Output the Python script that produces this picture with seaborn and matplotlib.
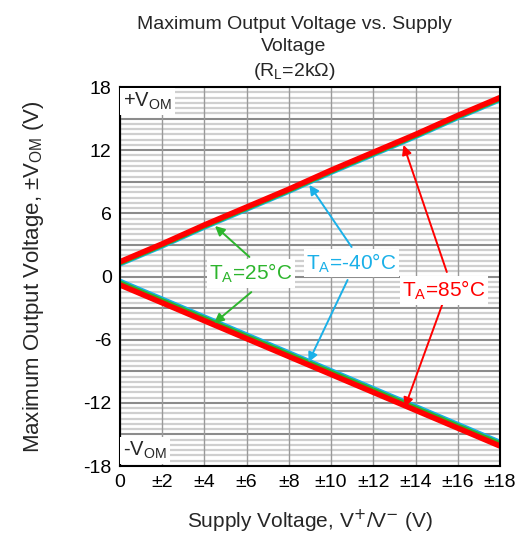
import numpy as np
import pandas as pd
import matplotlib
matplotlib.use("Agg")
import matplotlib.pyplot as plt
import seaborn as sns

# Supply voltage (±V) and measured output swing for each ambient temperature
supply = [0, 2, 4, 6, 8, 10, 12, 14, 16, 18]
vom_pos_25 = [1.3, 3.0, 4.8, 6.5, 8.2, 10.0, 11.7, 13.4, 15.2, 16.9]
vom_pos_m40 = [1.2, 2.9, 4.7, 6.4, 8.1, 9.9, 11.6, 13.3, 15.1, 16.8]
vom_pos_85 = [1.4, 3.1, 4.9, 6.6, 8.3, 10.1, 11.8, 13.5, 15.3, 17.0]
vom_neg_25 = [-0.6, -2.3, -4.0, -5.7, -7.4, -9.1, -10.8, -12.5, -14.2, -15.9]
vom_neg_m40 = [-0.45, -2.15, -3.85, -5.55, -7.25, -8.95, -10.65, -12.35, -14.05, -15.75]
vom_neg_85 = [-0.8, -2.5, -4.2, -5.9, -7.6, -9.3, -11.0, -12.7, -14.4, -16.1]

x_ticks = [0, 2, 4, 6, 8, 10, 12, 14, 16, 18]
x_ticklabels = ["0", "±2", "±4", "±6", "±8", "±10", "±12", "±14", "±16", "±18"]
y_ticks = [-18, -12, -6, 0, 6, 12, 18]

sns.set_theme(style="white")
plt.rcParams["font.family"] = ["Liberation Sans", "DejaVu Sans"]
plt.rcParams["axes.unicode_minus"] = False

fig = plt.figure(figsize=(5.29, 5.34), dpi=100)
ax = fig.add_axes([0.2268, 0.1273, 0.7184, 0.7097])

# grid: fine horizontal lines every 0.5 V, heavier every 3 V, vertical every 2 V
for y in np.arange(-18, 18.01, 0.5):
    if abs(y % 3) < 1e-9:
        ax.axhline(y, color="#8c8c8c", lw=1.5, zorder=1)
    else:
        ax.axhline(y, color="#cfcfcf", lw=1.6, zorder=0.9)
for x in range(0, 19, 2):
    ax.axvline(x, color="#9a9a9a", lw=1.0, zorder=1.1)

colors = {"25": "#2db52d", "-40": "#1ab0e8", "85": "#ff0000"}
series = [
    ("-40", vom_pos_m40, vom_neg_m40),
    ("25", vom_pos_25, vom_neg_25),
    ("85", vom_pos_85, vom_neg_85),
]
for temp, pos, neg in series:
    df = pd.DataFrame({"supply": supply, "pos": pos, "neg": neg})
    lw = 4.0 if temp == "85" else 3.8
    sns.lineplot(data=df, x="supply", y="pos", color=colors[temp], lw=lw, ax=ax, zorder=3)
    sns.lineplot(data=df, x="supply", y="neg", color=colors[temp], lw=lw, ax=ax, zorder=3)

ax.set_xlim(0, 18)
ax.set_ylim(-18, 18)
ax.set_xticks(x_ticks)
ax.set_xticklabels(x_ticklabels)
ax.set_yticks(y_ticks)
ax.tick_params(axis="both", length=0, labelsize=14, pad=6, colors="black")
for s in ax.spines.values():
    s.set_color("black")
    s.set_linewidth(1.5)
    s.set_zorder(5)

ax.set_xlabel("Supply Voltage, V$^{+}$/V$^{-}$ (V)", fontsize=15, labelpad=12)
ax.set_ylabel("Maximum Output Voltage, ±V$_{\\mathregular{OM}}$ (V)", fontsize=16, labelpad=27)
ax.set_title("Maximum Output Voltage vs. Supply\nVoltage\n(R$_{\\mathregular{L}}$=2kΩ)",
             fontsize=14, linespacing=1.4, pad=8, x=0.458)

box = dict(boxstyle="square,pad=0.15", fc="white", ec="none")
ax.text(0.15, 16.6, "+V$_{\\mathregular{OM}}$", fontsize=14.5, ha="left", va="center", bbox=box, zorder=6)
ax.text(0.15, -16.5, "-V$_{\\mathregular{OM}}$", fontsize=14.5, ha="left", va="center", bbox=box, zorder=6)

label_box = dict(boxstyle="square,pad=0.12", fc="white", ec="none")
arrow_kw = dict(arrowstyle="-|>", lw=1.4, mutation_scale=14, shrinkA=0, shrinkB=0)

# T_A = 25 °C
c = colors["25"]
ax.text(6.2, 0.3, "T$_{\\mathregular{A}}$=25°C", color=c, fontsize=15, ha="center",
        va="center", bbox=label_box, zorder=6)
ax.annotate("", xy=(4.5, 4.8), xytext=(6.13, 1.86), arrowprops=dict(color=c, **arrow_kw), zorder=4)
ax.annotate("", xy=(4.46, -4.43), xytext=(6.22, -1.48), arrowprops=dict(color=c, **arrow_kw), zorder=4)

# T_A = -40 °C
c = colors["-40"]
ax.text(10.95, 1.3, "T$_{\\mathregular{A}}$=-40°C", color=c, fontsize=15, ha="center",
        va="center", bbox=label_box, zorder=6)
ax.annotate("", xy=(8.97, 8.7), xytext=(10.97, 2.81), arrowprops=dict(color=c, **arrow_kw), zorder=4)
ax.annotate("", xy=(8.93, -8.14), xytext=(10.78, -0.33), arrowprops=dict(color=c, **arrow_kw), zorder=4)

# T_A = 85 °C
c = colors["85"]
ax.text(15.35, -1.3, "T$_{\\mathregular{A}}$=85°C", color=c, fontsize=15, ha="center",
        va="center", bbox=label_box, zorder=6)
ax.annotate("", xy=(13.43, 12.5), xytext=(15.48, 0.43), arrowprops=dict(color=c, **arrow_kw), zorder=4)
ax.annotate("", xy=(13.49, -12.43), xytext=(15.29, -2.52), arrowprops=dict(color=c, **arrow_kw), zorder=4)

fig.savefig("out.png", dpi=100)
